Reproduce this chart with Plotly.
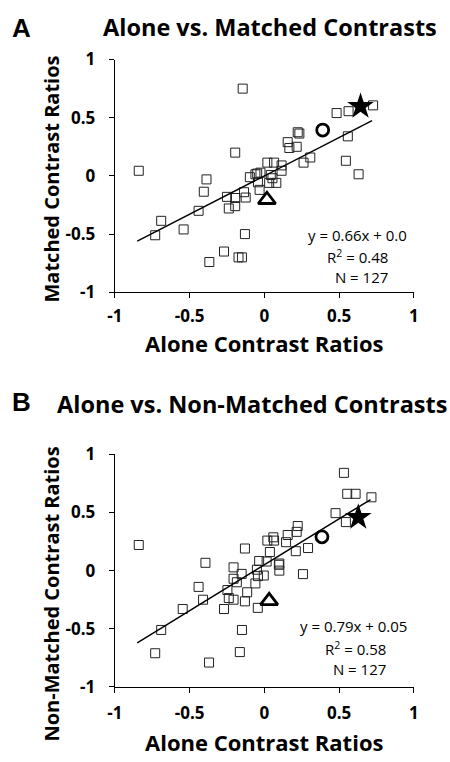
import plotly.graph_objects as go

W, H = 450, 762

# ---- Panel A data (Alone vs Matched) ----
a_x = [-0.84, -0.145, -0.73, -0.69, -0.54, -0.44, -0.405, -0.387, -0.368, -0.27,
       -0.195, -0.25, -0.238, -0.195, -0.195, -0.173, -0.15, -0.13, -0.136, -0.125,
       -0.097, -0.06, -0.043, -0.032, -0.048, -0.026, 0.02, 0.032, 0.043, 0.065,
       0.08, 0.054, 0.115, 0.115, 0.156, 0.167, 0.216, 0.223, 0.234, 0.262,
       0.307, 0.483, 0.545, 0.558, 0.563, 0.63, 0.727]
a_y = [0.044, 0.75, -0.51, -0.386, -0.46, -0.30, -0.136, -0.03, -0.74, -0.65,
       0.20, -0.18, -0.28, -0.26, -0.19, -0.70, -0.70, -0.50, -0.14, -0.186,
       -0.011, 0.014, -0.055, -0.12, 0.02, 0.028, 0.114, -0.06, 0.008, 0.114,
       -0.06, -0.02, 0.09, 0.044, 0.29, 0.24, 0.25, 0.375, 0.364, 0.114,
       0.158, 0.54, 0.13, 0.34, 0.556, 0.014, 0.606]
a_star = (0.643, 0.597)
a_circle = (0.39, 0.394)
a_triangle = (0.017, -0.205)
a_fit = (0.66, 0.0)
a_fit_range = [-0.85, 0.72]
a_eq = "y = 0.66x + 0.0"
a_stats = "R<sup>2</sup> = 0.48<br>N = 127"

# ---- Panel B data (Alone vs Non-Matched) ----
b_x = [-0.84, 0.532, 0.554, 0.61, 0.716, 0.476, 0.545, 0.223, 0.216, 0.156,
       0.06, 0.02, 0.065, 0.145, 0.21, 0.292, -0.13, 0.037, -0.035, 0.015,
       0.10, 0.097, 0.10, 0.258, -0.394, -0.206, -0.152, -0.206, -0.184, -0.05,
       -0.043, -0.004, -0.06, -0.115, -0.13, -0.247, -0.238, -0.206, -0.44, -0.41,
       -0.546, -0.27, -0.044, -0.69, -0.15, -0.73, -0.37, -0.164]
b_y = [0.22, 0.84, 0.66, 0.66, 0.63, 0.494, 0.417, 0.383, 0.333, 0.306,
       0.286, 0.258, 0.258, 0.244, 0.167, 0.194, 0.19, 0.16, 0.083, 0.078,
       0.061, 0.05, 0.0, -0.03, 0.067, 0.028, -0.028, -0.07, -0.10, 0.008,
       -0.047, -0.042, -0.11, -0.186, -0.264, -0.167, -0.236, -0.25, -0.14, -0.25,
       -0.33, -0.33, -0.32, -0.51, -0.51, -0.71, -0.79, -0.70]
b_star = (0.628, 0.458)
b_circle = (0.385, 0.29)
b_triangle = (0.032, -0.26)
b_fit = (0.79, 0.05)
b_fit_range = [-0.85, 0.71]
b_eq = "y = 0.79x + 0.05"
b_stats = "R<sup>2</sup> = 0.58<br>N = 127"

tick_vals = [-1, -0.5, 0, 0.5, 1]
tick_text = ["-1", "-0.5", "0", "0.5", "1"]

titles = ["Alone vs. Matched Contrasts", "Alone vs. Non-Matched Contrasts"]
ytitles = ["Matched Contrast Ratios", "Non-Matched Contrast Ratios"]
xtitle = "Alone Contrast Ratios"
letters = ["A", "B"]

FONT = "Open Sans"

def px(x):
    return x / W

def py(y):
    return 1 - y / H

fig = go.Figure()

panels = [
    dict(x=a_x, y=a_y, star=a_star, circ=a_circle, tri=a_triangle, fit=a_fit, fr=a_fit_range,
         eq=a_eq, stats=a_stats, top=49, bot=289, xa="x", ya="y",
         title_xy=(270, 15), letter_y=16, xt_y=341, yt_y=172, standoff=3,
         eq_pos=(360, 230), st_pos=(393, 262)),
    dict(x=b_x, y=b_y, star=b_star, circ=b_circle, tri=b_triangle, fit=b_fit, fr=b_fit_range,
         eq=b_eq, stats=b_stats, top=456, bot=696, xa="x2", ya="y2",
         title_xy=(251, 404), letter_y=402, xt_y=753, yt_y=600, standoff=6,
         eq_pos=(356, 633), st_pos=(391, 667)),
]

left, right = 110, 418
annotations = []
for i, p in enumerate(panels):
    fig.add_trace(go.Scatter(x=p["x"], y=p["y"], mode="markers", xaxis=p["xa"], yaxis=p["ya"],
                             marker=dict(symbol="square-open", size=9, color="#222",
                                         line=dict(width=1, color="#222")),
                             showlegend=False, hoverinfo="skip"))
    m, b = p["fit"]
    fx = p["fr"]
    fy = [m * v + b for v in fx]
    fig.add_trace(go.Scatter(x=fx, y=fy, mode="lines", xaxis=p["xa"], yaxis=p["ya"],
                             line=dict(color="black", width=1.5), showlegend=False, hoverinfo="skip"))
    fig.add_trace(go.Scatter(x=[p["star"][0]], y=[p["star"][1]], mode="markers", xaxis=p["xa"], yaxis=p["ya"],
                             marker=dict(symbol="star", size=20, color="black"), showlegend=False, hoverinfo="skip"))
    fig.add_trace(go.Scatter(x=[p["circ"][0]], y=[p["circ"][1]], mode="markers", xaxis=p["xa"], yaxis=p["ya"],
                             marker=dict(symbol="circle-open", size=12, color="black", line=dict(width=2.8, color="black")),
                             showlegend=False, hoverinfo="skip"))
    fig.add_trace(go.Scatter(x=[p["tri"][0]], y=[p["tri"][1]], mode="markers", xaxis=p["xa"], yaxis=p["ya"],
                             marker=dict(symbol="triangle-up-open", size=15, color="black", line=dict(width=2.8, color="black")),
                             showlegend=False, hoverinfo="skip"))

    top, bot = p["top"], p["bot"]
    axcommon = dict(range=[-1, 1], tickvals=tick_vals, ticktext=tick_text, showline=True, linecolor="black",
                    linewidth=1.2, ticks="outside", ticklen=5, tickcolor="black", showgrid=False, zeroline=False,
                    tickfont=dict(family=FONT, size=17, color="black", weight="bold"))
    xkey = "xaxis" if i == 0 else "xaxis2"
    ykey = "yaxis" if i == 0 else "yaxis2"
    fig.update_layout(**{
        xkey: dict(domain=[px(left), px(right)], anchor=p["ya"], ticklabelstandoff=p["standoff"], **axcommon),
        ykey: dict(domain=[py(bot), py(top)], anchor=p["xa"], ticklabelstandoff=10, **axcommon),
    })

    tx, ty = p["title_xy"]
    annotations.append(dict(text=titles[i], x=px(tx), y=py(ty), xref="paper", yref="paper", showarrow=False,
                            xanchor="center", yanchor="middle",
                            font=dict(family=FONT, size=23.5, color="black", weight="bold")))
    annotations.append(dict(text=letters[i], x=px(2), y=py(p["letter_y"]), xref="paper", yref="paper",
                            showarrow=False, xanchor="left", yanchor="middle",
                            font=dict(family="Liberation Sans", size=26, color="black", weight="bold")))
    annotations.append(dict(text=xtitle, x=px(264), y=py(p["xt_y"]), xref="paper", yref="paper", showarrow=False,
                            xanchor="center", yanchor="middle",
                            font=dict(family=FONT, size=22, color="black", weight="bold")))
    annotations.append(dict(text=ytitles[i], x=px(45), y=py(p["yt_y"]), xref="paper", yref="paper",
                            showarrow=False, xanchor="center", yanchor="middle", textangle=-90,
                            font=dict(family=FONT, size=20, color="black", weight="bold")))
    ex, ey = p["eq_pos"]
    annotations.append(dict(text=p["eq"], x=px(ex), y=py(ey), xref="paper", yref="paper", showarrow=False,
                            xanchor="center", yanchor="middle",
                            font=dict(family=FONT, size=15, color="black")))
    sx, sy = p["st_pos"]
    annotations.append(dict(text=p["stats"], x=px(sx), y=py(sy), xref="paper", yref="paper", showarrow=False,
                            xanchor="right", yanchor="middle", align="right",
                            font=dict(family=FONT, size=15, color="black")))

fig.update_layout(width=W, height=H, margin=dict(l=0, r=0, t=0, b=0), plot_bgcolor="white",
                  paper_bgcolor="white", annotations=annotations, showlegend=False)

fig.write_html("out.html", config={"displayModeBar": False},
               post_script="document.body.style.margin='0';document.body.style.overflow='hidden';")
